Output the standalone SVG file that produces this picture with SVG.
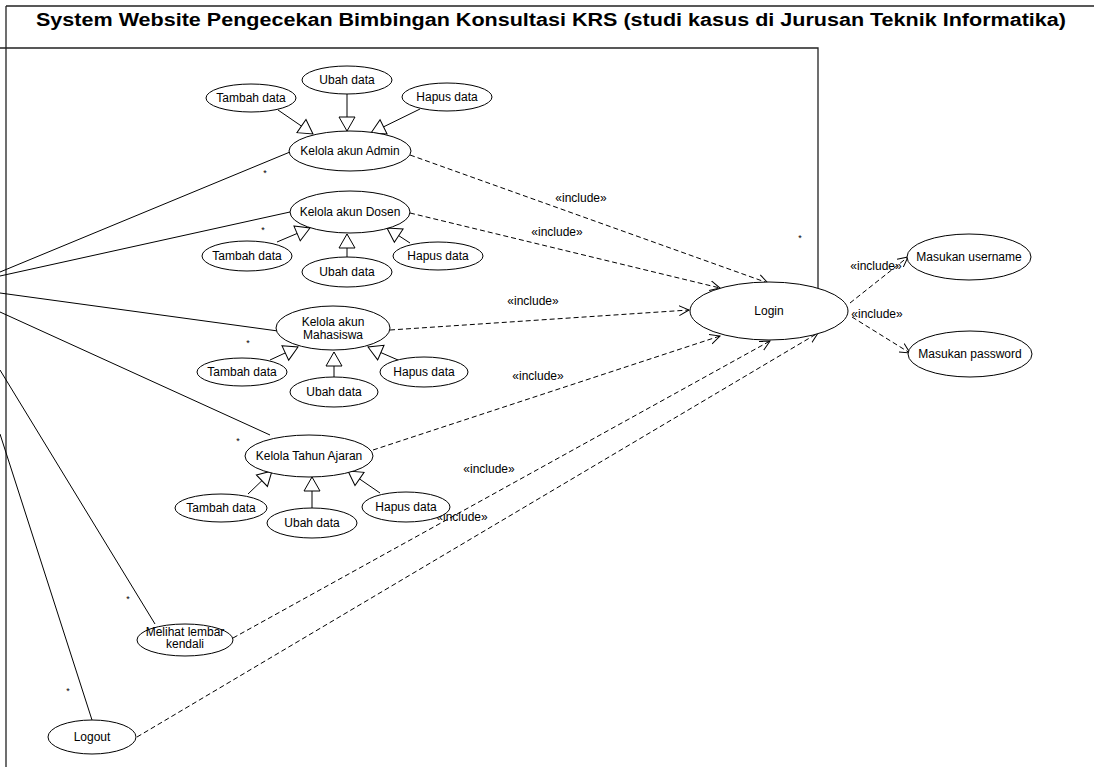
<svg xmlns="http://www.w3.org/2000/svg" width="1094" height="767" viewBox="0 0 1094 767">
<style>
text{font-family:"Liberation Sans",Arial,sans-serif;font-size:12px;fill:#000}
.uc ellipse{fill:#fff;stroke:#000;stroke-width:1}
.t{text-anchor:middle}
.frame{fill:none;stroke:#222;stroke-width:1.3}
.assoc{stroke:#000;stroke-width:1;fill:none}
.gen{stroke:#000;stroke-width:1;fill:none;marker-end:url(#tri)}
.inc{stroke:#000;stroke-width:1;fill:none;stroke-dasharray:5,3;marker-end:url(#open)}
.lbl{text-anchor:middle;font-size:12px}
.star{font-size:9px;text-anchor:middle}
</style>
<defs>
<marker id="tri" markerUnits="userSpaceOnUse" markerWidth="16" markerHeight="20" refX="15" refY="9" orient="auto" viewBox="0 0 16 18">
<path d="M1,1 L15,9 L1,17 Z" fill="#fff" stroke="#000" stroke-width="1"/>
</marker>
<marker id="open" markerUnits="userSpaceOnUse" markerWidth="12" markerHeight="12" refX="10" refY="5" orient="auto" viewBox="0 0 12 10">
<path d="M0,0 L10,5 L0,10" fill="none" stroke="#000" stroke-width="1"/>
</marker>
</defs>
<rect width="1094" height="767" fill="#fff"/>
<g id="frame">
<path class="frame" d="M6,6 H1094 M6,6 V767 M0,48 H818 V288"/>
<text x="551" y="26" class="t" style="font-weight:bold;font-size:18px" textLength="1030" lengthAdjust="spacingAndGlyphs">System Website Pengecekan Bimbingan Konsultasi KRS (studi kasus di Jurusan Teknik Informatika)</text>
</g>
<g id="connectors">
<line class="assoc" x1="0" y1="272" x2="290" y2="152"/>
<line class="assoc" x1="0" y1="276" x2="290" y2="212"/>
<line class="assoc" x1="0" y1="293" x2="278" y2="331"/>
<line class="assoc" x1="0" y1="312" x2="270" y2="435"/>
<line class="assoc" x1="0" y1="370" x2="155" y2="624"/>
<line class="assoc" x1="0" y1="434" x2="92" y2="720"/>
<line class="gen" x1="278" y1="110" x2="313" y2="134"/>
<line class="gen" x1="347" y1="94" x2="347" y2="131"/>
<line class="gen" x1="420" y1="109" x2="371" y2="133"/>
<line class="gen" x1="277" y1="242" x2="310" y2="228"/>
<line class="gen" x1="347" y1="257" x2="347" y2="234"/>
<line class="gen" x1="410" y1="243" x2="387" y2="228"/>
<line class="gen" x1="270" y1="360" x2="298" y2="347"/>
<line class="gen" x1="334" y1="377" x2="334" y2="352"/>
<line class="gen" x1="398" y1="360" x2="368" y2="347"/>
<line class="gen" x1="248" y1="494" x2="272" y2="471"/>
<line class="gen" x1="312" y1="508" x2="312" y2="477"/>
<line class="gen" x1="380" y1="493" x2="348" y2="471"/>
<line class="inc" x1="410" y1="155" x2="768" y2="283"/>
<line class="inc" x1="410" y1="213" x2="720" y2="288"/>
<line class="inc" x1="390" y1="330" x2="689" y2="310"/>
<line class="inc" x1="373" y1="450" x2="720" y2="336"/>
<line class="inc" x1="233" y1="638" x2="770" y2="341"/>
<line class="inc" x1="137" y1="737" x2="818" y2="333"/>
<line class="inc" x1="850" y1="303" x2="908" y2="257"/>
<line class="inc" x1="852" y1="317" x2="910" y2="353"/>
<text class="lbl" x="581" y="202">«include»</text>
<text class="lbl" x="557" y="236">«include»</text>
<text class="lbl" x="533" y="305">«include»</text>
<text class="lbl" x="538" y="380">«include»</text>
<text class="lbl" x="489" y="473">«include»</text>
<text class="lbl" x="462" y="521">«include»</text>
<text class="lbl" x="876" y="270">«include»</text>
<text class="lbl" x="877" y="318">«include»</text>
<text class="star" x="265" y="176">*</text>
<text class="star" x="263" y="233">*</text>
<text class="star" x="248" y="346">*</text>
<text class="star" x="238" y="444">*</text>
<text class="star" x="128" y="602">*</text>
<text class="star" x="68" y="694">*</text>
<text class="star" x="800" y="241">*</text>
</g>
<g id="admin-tambah" class="uc"><ellipse cx="251" cy="98" rx="45" ry="14"/><text class="t" x="251" y="102">Tambah data</text></g>
<g id="admin-ubah" class="uc"><ellipse cx="347" cy="80" rx="45" ry="14"/><text class="t" x="347" y="84">Ubah data</text></g>
<g id="admin-hapus" class="uc"><ellipse cx="447" cy="97" rx="45" ry="14"/><text class="t" x="447" y="101">Hapus data</text></g>
<g id="kelola-admin" class="uc"><ellipse cx="350" cy="151" rx="61" ry="20"/><text class="t" x="350" y="155">Kelola akun Admin</text></g>
<g id="kelola-dosen" class="uc"><ellipse cx="350" cy="212" rx="60" ry="21"/><text class="t" x="350" y="216">Kelola akun Dosen</text></g>
<g id="dosen-tambah" class="uc"><ellipse cx="247" cy="256" rx="45" ry="15"/><text class="t" x="247" y="260">Tambah data</text></g>
<g id="dosen-ubah" class="uc"><ellipse cx="347" cy="272" rx="45" ry="15"/><text class="t" x="347" y="276">Ubah data</text></g>
<g id="dosen-hapus" class="uc"><ellipse cx="438" cy="256" rx="45" ry="14"/><text class="t" x="438" y="260">Hapus data</text></g>
<g id="kelola-mahasiswa" class="uc"><ellipse cx="333" cy="328" rx="57" ry="22"/><text class="t" x="333" y="326">Kelola akun</text><text class="t" x="333" y="339">Mahasiswa</text></g>
<g id="mhs-tambah" class="uc"><ellipse cx="242" cy="372" rx="45" ry="14"/><text class="t" x="242" y="376">Tambah data</text></g>
<g id="mhs-ubah" class="uc"><ellipse cx="334" cy="392" rx="44" ry="15"/><text class="t" x="334" y="396">Ubah data</text></g>
<g id="mhs-hapus" class="uc"><ellipse cx="424" cy="372" rx="44" ry="15"/><text class="t" x="424" y="376">Hapus data</text></g>
<g id="kelola-tahun-ajaran" class="uc"><ellipse cx="309" cy="456" rx="64" ry="21"/><text class="t" x="309" y="460">Kelola Tahun Ajaran</text></g>
<g id="ta-tambah" class="uc"><ellipse cx="221" cy="508" rx="46" ry="14"/><text class="t" x="221" y="512">Tambah data</text></g>
<g id="ta-ubah" class="uc"><ellipse cx="312" cy="523" rx="45" ry="15"/><text class="t" x="312" y="527">Ubah data</text></g>
<g id="ta-hapus" class="uc"><ellipse cx="406" cy="507" rx="44" ry="15"/><text class="t" x="406" y="511">Hapus data</text></g>
<g id="melihat-lembar-kendali" class="uc"><ellipse cx="185" cy="640" rx="48" ry="16"/><text class="t" x="185" y="636">Melihat lembar</text><text class="t" x="185" y="648">kendali</text></g>
<g id="logout" class="uc"><ellipse cx="92" cy="737" rx="44" ry="17"/><text class="t" x="92" y="741">Logout</text></g>
<g id="login" class="uc"><ellipse cx="769" cy="311" rx="79" ry="29"/><text class="t" x="769" y="315">Login</text></g>
<g id="masukan-username" class="uc"><ellipse cx="969" cy="257" rx="62" ry="23"/><text class="t" x="969" y="261">Masukan username</text></g>
<g id="masukan-password" class="uc"><ellipse cx="970" cy="354" rx="62" ry="23"/><text class="t" x="970" y="358">Masukan password</text></g>
</svg>
